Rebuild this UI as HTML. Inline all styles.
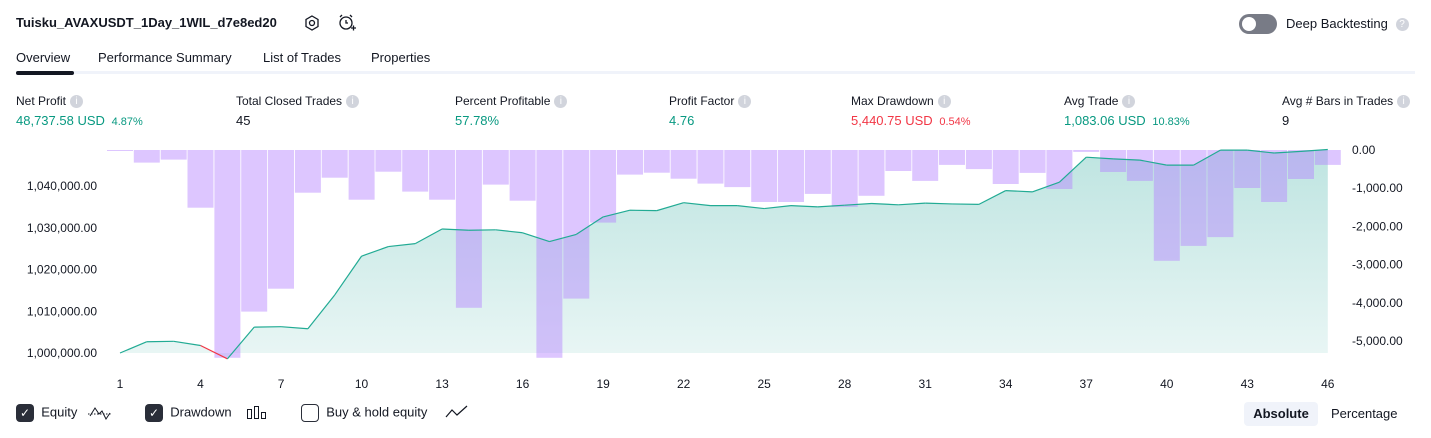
<!DOCTYPE html>
<html><head><meta charset="utf-8"><style>
body{margin:0;width:1431px;height:438px;background:#fff;font-family:"Liberation Sans",sans-serif;color:#131722;position:relative;overflow:hidden}
.a{position:absolute;white-space:nowrap}
.lbl{font-size:12px;color:#131722}
.val{font-size:13px}
.g{color:#089981}.r{color:#f23645}
.sm{font-size:11px}
.info{display:inline-block;width:13px;height:13px;border-radius:50%;background:#d1d4dc;color:#fff;font-size:10px;text-align:center;line-height:13px;vertical-align:middle;margin-left:4px}
.cb{display:inline-block;width:18px;height:18px;border-radius:4px;vertical-align:middle;box-sizing:border-box}
</style></head><body>
<div class="a" style="left:16px;top:15px;font-size:13px;font-weight:bold">Tuisku_AVAXUSDT_1Day_1WIL_d7e8ed20</div>
<svg class="a" style="left:303px;top:14px" width="18" height="18"><polygon points="9,2 15,5.5 15,12.5 9,16 3,12.5 3,5.5" fill="none" stroke="#131722" stroke-width="1.3"/><circle cx="9" cy="9" r="2.5" fill="none" stroke="#131722" stroke-width="1.3"/></svg>
<svg class="a" style="left:337px;top:13px" width="20" height="20"><circle cx="9" cy="10" r="6" fill="none" stroke="#131722" stroke-width="1.3"/><path d="M9 7v3h2M3 4l2-2M15 4l-2-2M14 15h5M16.5 12.5v5" stroke="#131722" fill="none" stroke-width="1.3"/></svg>
<div class="a" style="left:1239px;top:14px;width:38px;height:20px;border-radius:10px;background:#787b86"><div style="position:absolute;left:3px;top:3px;width:14px;height:14px;border-radius:50%;background:#fff"></div></div>
<div class="a" style="left:1286px;top:16px;font-size:13px">Deep Backtesting <span class="info">?</span></div>
<div class="a" style="left:16px;top:50px;font-size:13px">Overview</div>
<div class="a" style="left:98px;top:50px;font-size:13px">Performance Summary</div>
<div class="a" style="left:263px;top:50px;font-size:13px">List of Trades</div>
<div class="a" style="left:371px;top:50px;font-size:13px">Properties</div>
<div class="a" style="left:16px;top:71px;width:1399px;height:3px;background:#f0f3fa"></div>
<div class="a" style="left:16px;top:71px;width:58px;height:4px;border-radius:2px;background:#131722"></div>

<div class="a lbl" style="left:16px;top:94px">Net Profit<span class="info">i</span></div>
<div class="a val g" style="left:16px;top:113px">48,737.58 USD <span class="sm">&nbsp;4.87%</span></div>
<div class="a lbl" style="left:236px;top:94px">Total Closed Trades<span class="info">i</span></div>
<div class="a val" style="left:236px;top:113px">45</div>
<div class="a lbl" style="left:455px;top:94px">Percent Profitable<span class="info">i</span></div>
<div class="a val g" style="left:455px;top:113px">57.78%</div>
<div class="a lbl" style="left:669px;top:94px">Profit Factor<span class="info">i</span></div>
<div class="a val g" style="left:669px;top:113px">4.76</div>
<div class="a lbl" style="left:851px;top:94px">Max Drawdown<span class="info">i</span></div>
<div class="a val r" style="left:851px;top:113px">5,440.75 USD <span class="sm">&nbsp;0.54%</span></div>
<div class="a lbl" style="left:1064px;top:94px">Avg Trade<span class="info">i</span></div>
<div class="a val g" style="left:1064px;top:113px">1,083.06 USD <span class="sm">&nbsp;10.83%</span></div>
<div class="a lbl" style="left:1282px;top:94px">Avg # Bars in Trades<span class="info">i</span></div>
<div class="a val" style="left:1282px;top:113px">9</div>

<svg id="chart" class="a" style="left:0;top:0" width="1431" height="438">
<defs><linearGradient id="fillg" x1="0" y1="0" x2="0" y2="1"><stop offset="0" stop-color="#26a69a" stop-opacity="0.3"/><stop offset="1" stop-color="#26a69a" stop-opacity="0.1"/></linearGradient></defs>
</svg>

<div class="a" style="left:16px;top:404px;font-size:13px"><span class="cb" style="background:#2a2e39;color:#fff;text-align:center;line-height:18px;font-size:12px">✓</span>&nbsp; Equity</div>
<svg class="a" style="left:87px;top:404px" width="26" height="16"><path d="M1 10h24" stroke="#131722" stroke-dasharray="1.5 1.5"/><path d="M3 12l5-8 4 6 3-3 4 8 4-6" stroke="#131722" fill="none"/></svg>
<div class="a" style="left:145px;top:404px;font-size:13px"><span class="cb" style="background:#2a2e39;color:#fff;text-align:center;line-height:18px;font-size:12px">✓</span>&nbsp; Drawdown</div>
<svg class="a" style="left:246px;top:404px" width="22" height="16"><rect x="1.5" y="5.5" width="4" height="9" fill="none" stroke="#131722"/><rect x="8.5" y="2.5" width="4" height="12" fill="none" stroke="#131722"/><rect x="15.5" y="8.5" width="4" height="6" fill="none" stroke="#131722"/></svg>
<div class="a" style="left:301px;top:404px;font-size:13px"><span class="cb" style="border:1.5px solid #2a2e39"></span>&nbsp; Buy &amp; hold equity</div>
<svg class="a" style="left:445px;top:404px" width="24" height="16"><path d="M1 13l6-7 5 5 10-9" stroke="#131722" fill="none" stroke-width="1.2"/></svg>
<div class="a" style="left:1244px;top:402px;width:74px;height:24px;border-radius:4px;background:#f0f3fa;font-size:13px;font-weight:bold;text-align:center;line-height:24px">Absolute</div>
<div class="a" style="left:1331px;top:402px;height:24px;font-size:13px;line-height:24px">Percentage</div>

<script>
const trades = Array.from({length:46},(_,i)=>i+1);
const equity = [1000000,1002700,1002800,1001800,998600,1006200,1006300,1005800,1013900,1023200,1025500,1026200,1029700,1029400,1029500,1028800,1026700,1028400,1032600,1034200,1034100,1036000,1035300,1035300,1034600,1035300,1035000,1035400,1035800,1035500,1035900,1035700,1035600,1038900,1038600,1040900,1046900,1046500,1046200,1045000,1045000,1048600,1048600,1047900,1048300,1048737];
const drawdown = [-20,-330,-250,-1510,-5440,-4230,-3630,-1117,-724,-1300,-567,-1090,-1300,-4130,-907,-1326,-5440,-3890,-1900,-645,-593,-750,-880,-970,-1360,-1360,-1150,-1490,-1200,-550,-810,-390,-500,-890,-600,-1020,-50,-575,-810,-2900,-2510,-2280,-995,-1360,-760,-390];
const leftTicks = [1000000,1010000,1020000,1030000,1040000];
const rightTicks = [0,-1000,-2000,-3000,-4000,-5000];
const xTicks = [1,4,7,10,13,16,19,22,25,28,31,34,37,40,43,46];

const NS='http://www.w3.org/2000/svg';
const svg=document.getElementById('chart');
const xOf=t=>120+(t-1)*26.84;
const yEq=v=>353-(v-1000000)*0.004175;
const yDd=v=>150-v*0.0382;
const fmt=v=>v.toLocaleString('en-US',{minimumFractionDigits:2,maximumFractionDigits:2});
function mk(tag,attrs){const e=document.createElementNS(NS,tag);for(const k in attrs)e.setAttribute(k,attrs[k]);svg.appendChild(e);return e;}

// equity fill
let d='M'+xOf(1)+' '+yEq(1000000);
trades.forEach((t,i)=>{d+=' L'+xOf(t).toFixed(1)+' '+yEq(equity[i]).toFixed(1);});
d+=' L'+xOf(46)+' '+yEq(1000000)+' Z';
const fill=mk('path',{d:d,fill:'url(#fillg)'});



// drawdown bars
trades.forEach((t,i)=>{
  const y0=yDd(0), y1=Math.min(yDd(drawdown[i]),360);
  const b=mk('rect',{x:(xOf(t)-13).toFixed(1),y:y0,width:26,height:Math.max(1,y1-y0).toFixed(1),fill:'rgb(179,128,255)','fill-opacity':0.45});
  
  
});

// equity line segments
for(let i=1;i<trades.length;i++){
  const below=equity[i]<1000000||equity[i-1]<1000000&&false;
  const s=mk('line',{x1:xOf(trades[i-1]),y1:yEq(equity[i-1]),x2:xOf(trades[i]),y2:yEq(equity[i]),stroke:equity[i]<1000000?'#f23645':'#22ab94','stroke-width':1.2});
  
  
}

leftTicks.forEach(v=>{
  const tx=mk('text',{x:97,y:yEq(v)+4,'text-anchor':'end','font-size':12,fill:'#131722','font-family':'Liberation Sans, sans-serif'});
  tx.textContent=fmt(v);
  
  
});
rightTicks.forEach(v=>{
  const tx=mk('text',{x:1352,y:yDd(v)+4,'font-size':12,fill:'#131722','font-family':'Liberation Sans, sans-serif'});
  tx.textContent=fmt(v);
  
  
});
xTicks.forEach(t=>{
  const tx=mk('text',{x:xOf(t),y:388,'text-anchor':'middle','font-size':12,fill:'#131722','font-family':'Liberation Sans, sans-serif'});
  tx.textContent=t;
  
  
});
</script>
</body></html>
